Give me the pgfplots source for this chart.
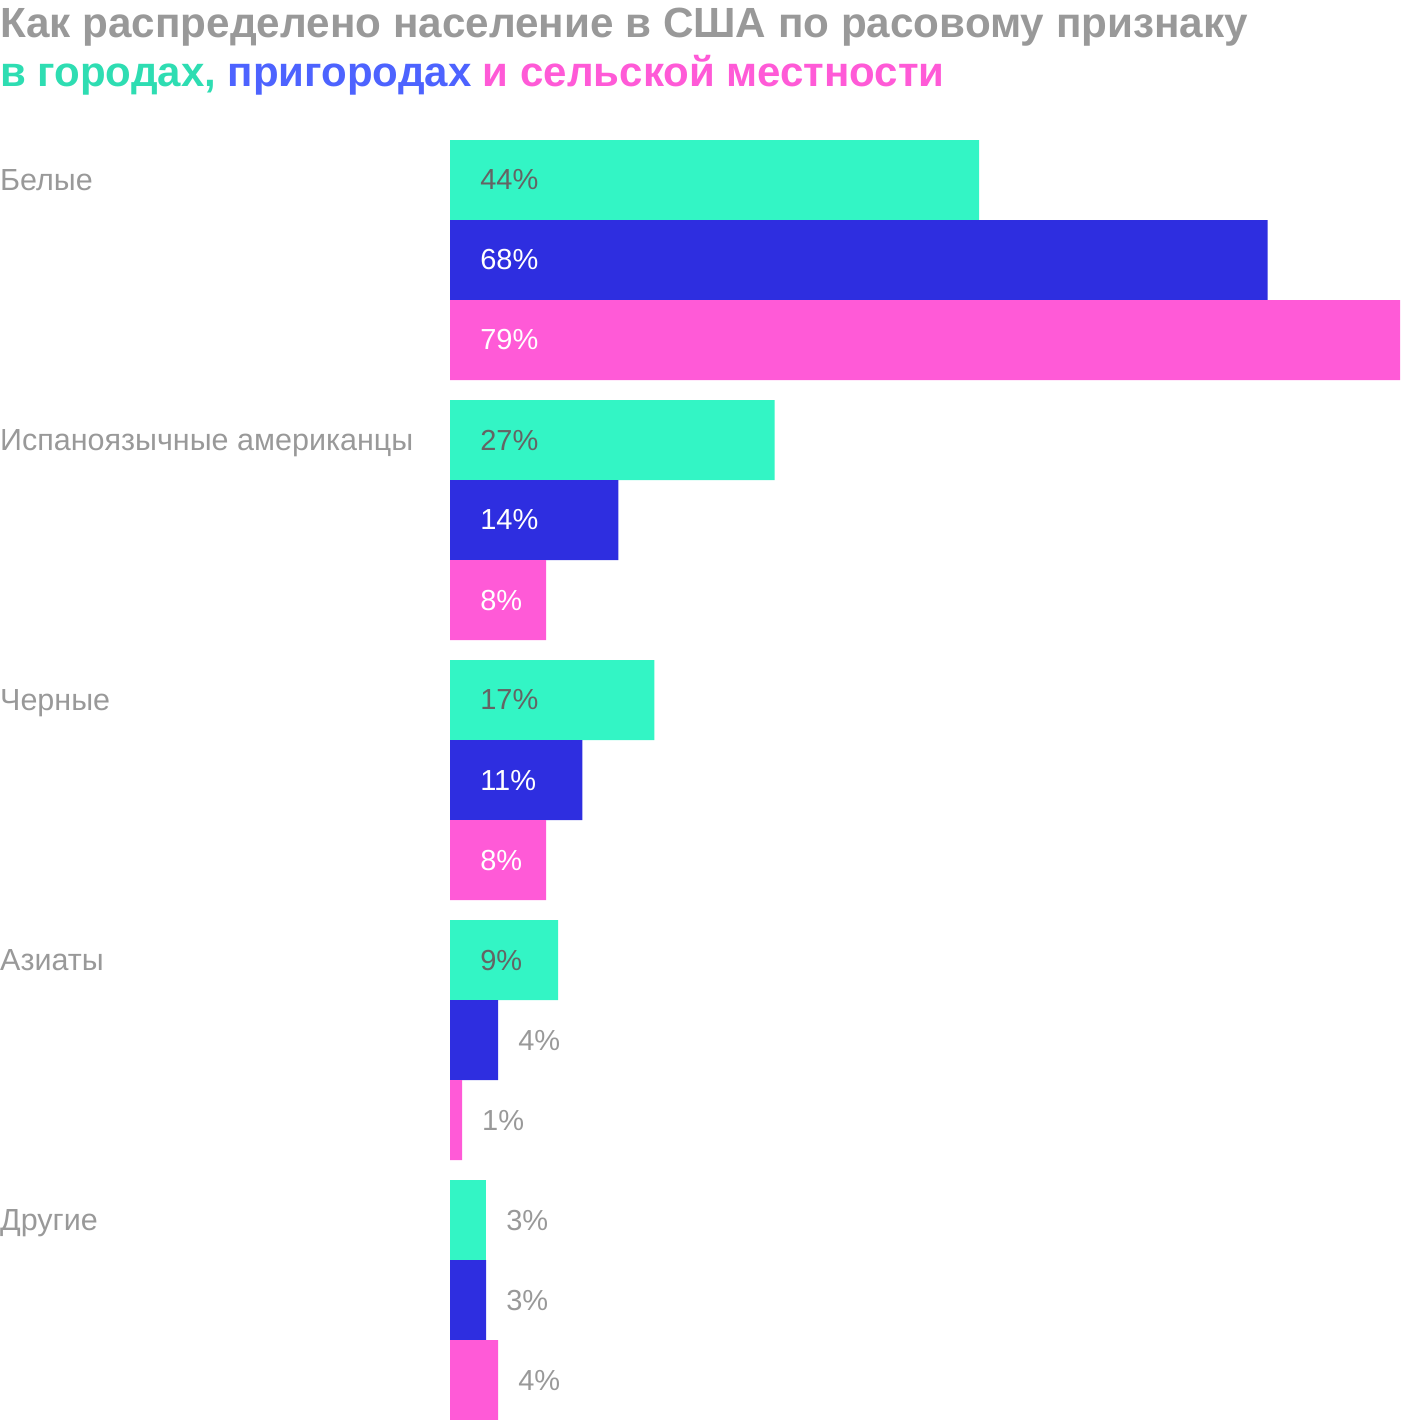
\documentclass[border=0pt]{standalone}
\usepackage{fontspec}
\setmainfont{Liberation Sans}
\usepackage{pgfplots}
\pgfplotsset{compat=1.18}
\definecolor{cgreen}{RGB}{51,245,197}
\definecolor{cblue}{RGB}{46,46,224}
\definecolor{cpink}{RGB}{255,90,215}
\definecolor{tgreen}{RGB}{46,221,178}
\definecolor{tblue}{RGB}{77,99,255}
\definecolor{tpink}{RGB}{255,90,215}
\definecolor{tgray}{RGB}{153,153,153}
\definecolor{dgray}{RGB}{100,100,100}
\newcommand{\lblfont}{\fontsize{29}{34}\selectfont}
\begin{document}
\begin{tikzpicture}
\useasboundingbox (0,0) rectangle (1400pt,-1420pt);
\node[anchor=base west, inner sep=0pt, text=tgray, font=\fontsize{42.2}{48}\selectfont\bfseries] at (0pt,-38pt) {Как распределено население в США по расовому признаку};
\node[anchor=base west, inner sep=0pt, font=\fontsize{42}{48}\selectfont\bfseries] at (0pt,-87pt) {\textcolor{tgreen}{в городах,} \textcolor{tblue}{пригородах} \textcolor{tpink}{и сельской местности}};
\begin{axis}[
  at={(450pt,-1420pt)}, anchor=south west,
  scale only axis, width=950pt, height=1280pt,
  xmin=0, xmax=79, ymin=140, ymax=1420, y dir=reverse,
  axis line style={draw=none},
  xtick=\empty,
  ytick={180,440,700,960,1220},
  yticklabels={Белые,Испаноязычные американцы,Черные,Азиаты,Другие},
  major tick length=0pt,
  yticklabel style={anchor=base west, inner sep=0pt, xshift=-450pt, yshift=-10pt, text=tgray, font=\fontsize{30.5}{36}\selectfont},
  clip=false,
  /pgf/number format/assume math mode=true,
  nodes near coords={\pgfmathprintnumber{\pgfplotspointmeta}\%},
]
% green (cities)
\addplot[xbar, bar shift=0pt, bar width=80, fill=cgreen, draw=none, nodes near coords=\empty]
  coordinates {(44,180) (27,440) (17,700) (9,960)};
\addplot[xbar, bar shift=0pt, bar width=80, fill=cgreen, draw=none, point meta=x,
  nodes near coords style={anchor=west, inner sep=0pt, xshift=20pt, text=tgray, font=\lblfont}]
  coordinates {(3,1220)};
% blue (suburbs)
\addplot[xbar, bar shift=0pt, bar width=80, fill=cblue, draw=none, nodes near coords=\empty]
  coordinates {(68,260) (14,520) (11,780)};
\addplot[xbar, bar shift=0pt, bar width=80, fill=cblue, draw=none, point meta=x,
  nodes near coords style={anchor=west, inner sep=0pt, xshift=20pt, text=tgray, font=\lblfont}]
  coordinates {(4,1040) (3,1300)};
% pink (rural)
\addplot[xbar, bar shift=0pt, bar width=80, fill=cpink, draw=none, nodes near coords=\empty]
  coordinates {(79,340) (8,600) (8,860)};
\addplot[xbar, bar shift=0pt, bar width=80, fill=cpink, draw=none, point meta=x,
  nodes near coords style={anchor=west, inner sep=0pt, xshift=20pt, text=tgray, font=\lblfont}]
  coordinates {(1,1120) (4,1380)};
% labels inside bars
\addplot[draw=none, mark=none, point meta=explicit,
  nodes near coords style={anchor=west, inner sep=0pt, text=dgray, font=\lblfont}]
  coordinates {(2.5,180) [44] (2.5,440) [27] (2.5,700) [17] (2.5,960) [9]};
\addplot[draw=none, mark=none, point meta=explicit,
  nodes near coords style={anchor=west, inner sep=0pt, text=white, font=\lblfont}]
  coordinates {(2.5,260) [68] (2.5,520) [14] (2.5,780) [11] (2.5,340) [79] (2.5,600) [8] (2.5,860) [8]};
\end{axis}
\end{tikzpicture}
\end{document}
